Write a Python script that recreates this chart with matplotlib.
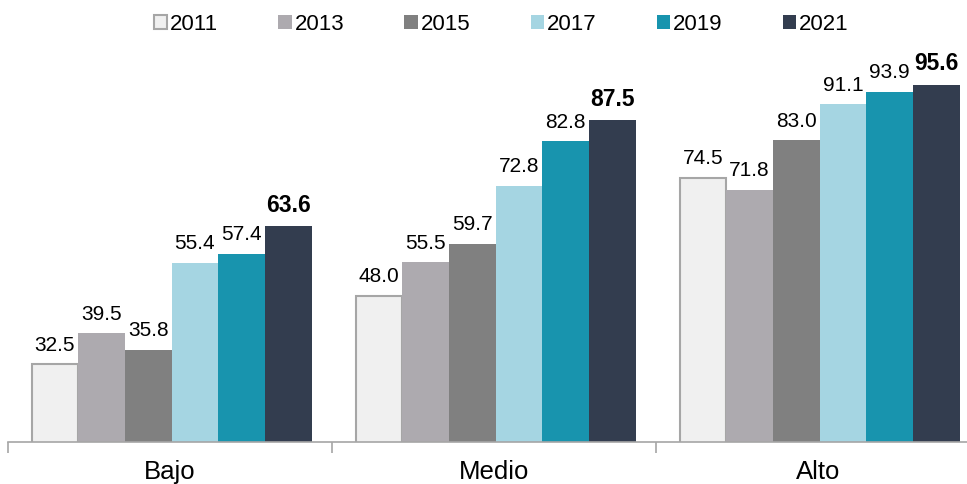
import numpy as np
import matplotlib.pyplot as plt
import matplotlib.transforms as mtransforms

plt.rcParams['font.family'] = ['Liberation Sans', 'DejaVu Sans']

# data
groups = ['Bajo', 'Medio', 'Alto']
years = ['2011', '2013', '2015', '2017', '2019', '2021']
values = {
    '2011': [32.5, 48.0, 74.5],
    '2013': [39.5, 55.5, 71.8],
    '2015': [35.8, 59.7, 83.0],
    '2017': [55.4, 72.8, 91.1],
    '2019': [57.4, 82.8, 93.9],
    '2021': [63.6, 87.5, 95.6],
}
colors = ['#F0F0F0', '#ADAAAF', '#808080', '#A5D5E2', '#1894AE', '#333D4F']

fig = plt.figure(figsize=(9.67, 4.84), dpi=100)
ax = fig.add_axes([8 / 967, 42 / 484, 959 / 967, 377 / 484])

x = np.arange(len(groups))
w = 0.144
for i, yr in enumerate(years):
    pos = x + (i - 2.5) * w + 0.005
    edge = '#A6A6A6' if yr == '2011' else 'none'
    lw = 1.5 if yr == '2011' else 0
    ax.bar(pos, values[yr], width=w, bottom=0, color=colors[i], edgecolor=edge,
           linewidth=lw, label=yr, zorder=2)
    for px, v in zip(pos, values[yr]):
        bold = yr == '2021'
        ax.text(px, v + 2.2, f'{v:.1f}', ha='center', va='bottom',
                fontsize=16.5 if bold else 15, fontweight='bold' if bold else 'normal',
                color='black')

ax.set_ylim(15, 100)
ax.set_xlim(-0.5, -0.5 + 959 / 324)
ax.set_yticks([])
for s in ['top', 'right', 'left']:
    ax.spines[s].set_visible(False)
ax.spines['bottom'].set_color('#A6A6A6')
ax.spines['bottom'].set_linewidth(1.2)

ax.set_xticks([-0.5, 0.5, 1.5])
ax.set_xticklabels([])
ax.tick_params(axis='x', length=8, color='#A6A6A6', width=1.2)

# group names under the axis
trans = mtransforms.blended_transform_factory(ax.transData, fig.transFigure)
for gx, g in zip(x, groups):
    ax.text(gx, 5 / 484, g, transform=trans, ha='center', va='baseline', fontsize=18.5)

ax.legend(loc='center', bbox_to_anchor=(501 / 967, 1 - 24 / 484), bbox_transform=fig.transFigure,
          ncol=6, frameon=False, fontsize=16, handlelength=0.6, handleheight=0.6,
          handletextpad=0.12, columnspacing=2.72, borderpad=0)

fig.savefig('out.png', dpi=100)
